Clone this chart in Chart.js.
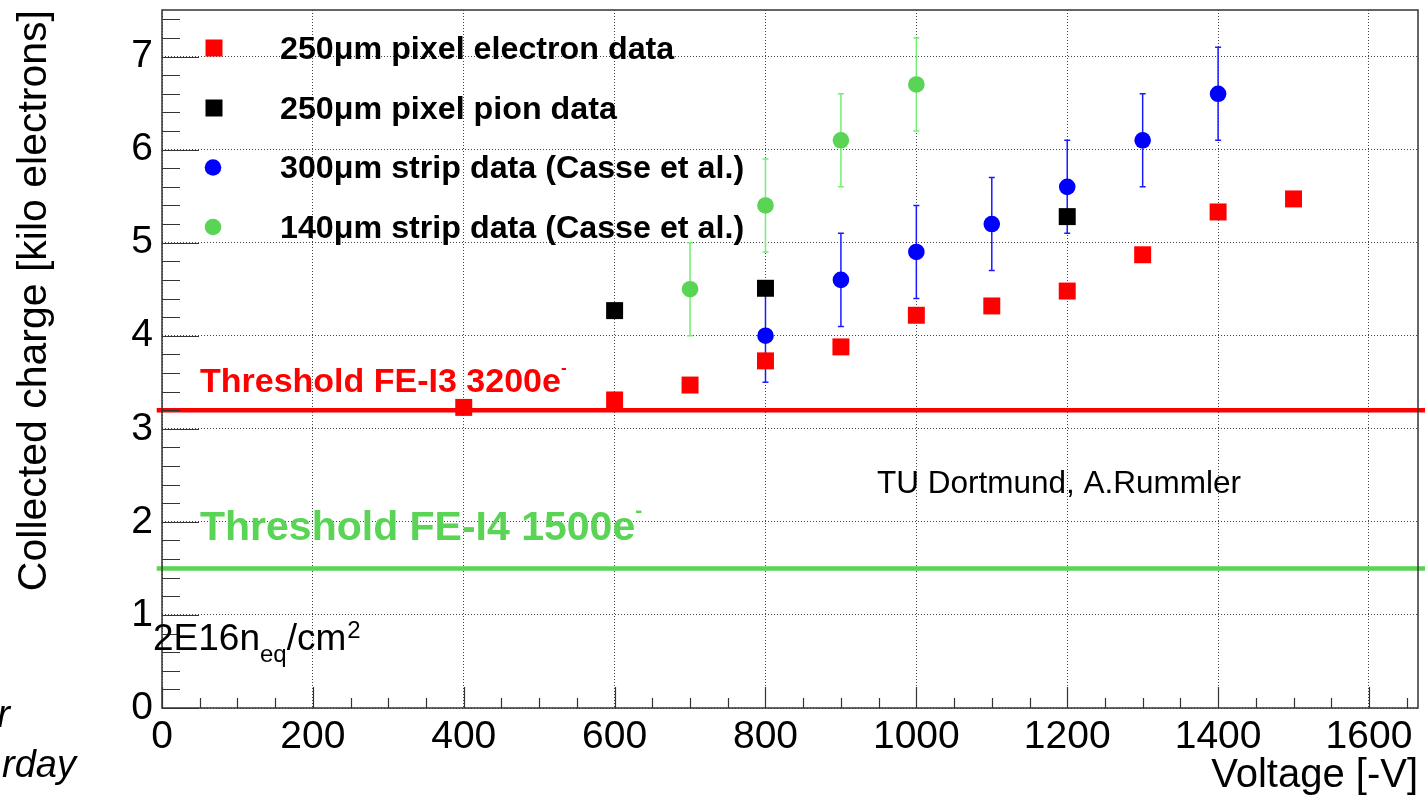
<!DOCTYPE html>
<html>
<head>
<meta charset="utf-8">
<script src="https://cdn.jsdelivr.net/npm/chart.js@4.4.1/dist/chart.umd.min.js"></script>
<style>
  html, body { margin: 0; padding: 0; background: #fff; }
  canvas { display: block; }
</style>
</head>
<body>
<canvas id="chargeChart" width="1425" height="796"></canvas>
<script>
// values (voltage in -V, charge in kilo electrons)
const electronVolts = [400, 600, 700, 800, 900, 1000, 1100, 1200, 1300, 1400, 1500];
const electronCharge = [3.23, 3.31, 3.47, 3.73, 3.88, 4.22, 4.32, 4.48, 4.87, 5.33, 5.47];

const pionVolts = [600, 800, 1200];
const pionCharge = [4.27, 4.51, 5.28];

const strip300Volts = [800, 900, 1000, 1100, 1200, 1300, 1400];
const strip300Charge = [4.0, 4.6, 4.9, 5.2, 5.6, 6.1, 6.6];
const strip300Err = [0.5, 0.5, 0.5, 0.5, 0.5, 0.5, 0.5];

const strip140Volts = [700, 800, 900, 1000];
const strip140Charge = [4.5, 5.4, 6.1, 6.7];
const strip140Err = [0.5, 0.5, 0.5, 0.5];

const thresholds = [3.2, 1.5];
const thresholdNames = ['Threshold FE-I3 3200e', 'Threshold FE-I4 1500e'];

const xTicks = [0, 200, 400, 600, 800, 1000, 1200, 1400, 1600];
const yTicks = [0, 1, 2, 3, 4, 5, 6, 7];

const FONT = '"Liberation Sans", Arial, Helvetica, sans-serif';
const RED = '#ff0000';
const GREEN = '#59d454';
const BLUE = '#0000ff';

function pts(xs, ys) {
  return xs.map((x, i) => ({ x: x, y: ys[i] }));
}

function hline(v) {
  return [{ x: -7, y: v }, { x: 1676, y: v }];
}

// error bars, drawn just before their own dataset so squares sit on top
const errorBars = {
  id: 'errorBars',
  beforeDatasetDraw(chart, args) {
    const ds = chart.data.datasets[args.index];
    if (!ds.errors) return;
    const { ctx } = chart;
    const x = chart.scales.x, y = chart.scales.y;
    ctx.save();
    ctx.strokeStyle = ds.errorColor;
    ctx.lineWidth = 1.5;
    ctx.beginPath();
    ds.data.forEach((p, i) => {
      const px = x.getPixelForValue(p.x);
      const top = y.getPixelForValue(p.y + ds.errors[i]);
      const bot = y.getPixelForValue(p.y - ds.errors[i]);
      ctx.moveTo(px, top); ctx.lineTo(px, bot);
      ctx.moveTo(px - 3, top); ctx.lineTo(px + 3, top);
      ctx.moveTo(px - 3, bot); ctx.lineTo(px + 3, bot);
    });
    ctx.stroke();
    ctx.restore();
  }
};

// ROOT style frame with ticks pointing inwards
const frame = {
  id: 'frame',
  afterDraw(chart) {
    const { ctx, chartArea: a } = chart;
    const x = chart.scales.x, y = chart.scales.y;
    ctx.save();
    ctx.strokeStyle = '#333';
    ctx.lineWidth = 1.5;
    ctx.strokeRect(a.left, a.top, a.right - a.left, a.bottom - a.top);
    ctx.lineWidth = 1.2;
    ctx.beginPath();
    for (let i = 0; i <= 37; i++) {
      const py = Math.round(y.getPixelForValue(i * 0.2)) + 0.5;
      const len = i % 5 === 0 ? 37 : 18;
      ctx.moveTo(a.left, py); ctx.lineTo(a.left + len, py);
    }
    for (let i = 0; i <= 33; i++) {
      const px = Math.round(x.getPixelForValue(i * 50)) + 0.5;
      const len = i % 4 === 0 ? 21 : 10;
      ctx.moveTo(px, a.bottom); ctx.lineTo(px, a.bottom - len);
    }
    ctx.stroke();
    ctx.restore();
  }
};

// legend, annotations and axis titles
const texts = {
  id: 'texts',
  afterDraw(chart) {
    const { ctx, chartArea: a } = chart;
    ctx.save();
    ctx.textBaseline = 'alphabetic';

    // legend
    const rows = [48, 108, 167.5, 227];
    for (let i = 0; i < 4; i++) {
      const ds = chart.data.datasets[i];
      ctx.fillStyle = ds.backgroundColor;
      ctx.beginPath();
      if (ds.pointStyle === 'rect') {
        ctx.rect(214 - 8.5, rows[i] - 8.5, 17, 17);
      } else {
        ctx.arc(213, rows[i], 8.3, 0, Math.PI * 2);
      }
      ctx.fill();
      ctx.save();
      ctx.translate(280, rows[i] + 10.5);
      ctx.scale(1.04, 1);
      ctx.fillStyle = '#000';
      ctx.font = 'bold 31px ' + FONT;
      ctx.textAlign = 'left';
      ctx.fillText(ds.label, 0, 0);
      ctx.restore();
    }

    // threshold labels
    const tCol = [RED, GREEN];
    const tSize = [34, 41];
    const tBase = [392, 540];
    for (let i = 0; i < 2; i++) {
      ctx.fillStyle = tCol[i];
      ctx.font = 'bold ' + tSize[i] + 'px ' + FONT;
      ctx.textAlign = 'left';
      ctx.fillText(thresholdNames[i], 200, tBase[i]);
      const w = ctx.measureText(thresholdNames[i]).width;
      ctx.font = 'bold ' + Math.round(tSize[i] * 0.5) + 'px ' + FONT;
      ctx.fillText('-', 200 + w, tBase[i] - tSize[i] * 0.55);
    }

    // annotations
    ctx.fillStyle = '#000';
    ctx.font = '31.5px ' + FONT;
    ctx.fillText('TU Dortmund, A.Rummler', 877, 493);

    ctx.font = '37px ' + FONT;
    ctx.fillText('2E16n', 153, 650);
    let cx = 153 + ctx.measureText('2E16n').width;
    ctx.font = '24px ' + FONT;
    ctx.fillText('eq', cx, 662);
    cx += ctx.measureText('eq').width;
    ctx.font = '37px ' + FONT;
    ctx.fillText('/cm', cx, 650);
    cx += ctx.measureText('/cm').width;
    ctx.font = '24px ' + FONT;
    ctx.fillText('2', cx + 1, 638);

    // clipped italic text at the left edge
    ctx.font = 'italic 38px ' + FONT;
    ctx.textAlign = 'right';
    ctx.fillText('r', 10, 727);
    ctx.fillText('rday', 76, 777);

    // axis titles
    ctx.font = '40px ' + FONT;
    ctx.textAlign = 'right';
    ctx.fillText('Voltage [-V]', a.right, 787);
    ctx.font = '41px ' + FONT;
    ctx.translate(35, a.top);
    ctx.rotate(-Math.PI / 2);
    ctx.textBaseline = 'middle';
    ctx.fillText('Collected charge [kilo electrons]', 0, 0);
    ctx.restore();
  }
};

new Chart(document.getElementById('chargeChart'), {
  type: 'scatter',
  data: {
    datasets: [
      {
        label: '250μm pixel electron data',
        data: pts(electronVolts, electronCharge),
        pointStyle: 'rect', pointRadius: 12, borderWidth: 0,
        backgroundColor: RED, borderColor: RED
      },
      {
        label: '250μm pixel pion data',
        data: pts(pionVolts, pionCharge),
        pointStyle: 'rect', pointRadius: 12, borderWidth: 0,
        backgroundColor: '#000', borderColor: '#000'
      },
      {
        label: '300μm strip data (Casse et al.)',
        data: pts(strip300Volts, strip300Charge),
        errors: strip300Err, errorColor: '#1a1aff',
        pointStyle: 'circle', pointRadius: 8.3, borderWidth: 0,
        backgroundColor: BLUE, borderColor: BLUE
      },
      {
        label: '140μm strip data (Casse et al.)',
        data: pts(strip140Volts, strip140Charge),
        errors: strip140Err, errorColor: '#74ee74',
        pointStyle: 'circle', pointRadius: 8.3, borderWidth: 0,
        backgroundColor: GREEN, borderColor: GREEN
      },
      {
        label: thresholdNames[0],
        data: hline(thresholds[0]),
        showLine: true, pointRadius: 0, borderWidth: 4.5,
        borderColor: RED, clip: false
      },
      {
        label: thresholdNames[1],
        data: hline(thresholds[1]),
        showLine: true, pointRadius: 0, borderWidth: 4.5,
        borderColor: GREEN, clip: false
      }
    ]
  },
  options: {
    responsive: false,
    animation: false,
    devicePixelRatio: 1,
    layout: { autoPadding: false, padding: { top: 10, right: 7, left: 0, bottom: 0 } },
    plugins: {
      legend: { display: false },
      tooltip: { enabled: false }
    },
    scales: {
      x: {
        type: 'linear',
        min: 0,
        max: 1665,
        afterBuildTicks: s => { s.ticks = xTicks.map(v => ({ value: v })); },
        afterFit: s => { s.height = 88; s.paddingLeft = 0; s.paddingRight = 0; },
        grid: { color: '#444', lineWidth: 1, drawTicks: false },
        border: { display: false, dash: [1, 2] },
        ticks: {
          color: '#000', padding: 6, maxRotation: 0, autoSkip: false,
          font: { family: FONT, size: 39 },
          callback: v => String(v)
        }
      },
      y: {
        type: 'linear',
        min: 0,
        max: 7.5,
        afterBuildTicks: s => { s.ticks = yTicks.map(v => ({ value: v })); },
        afterFit: s => { s.width = 162; s.paddingTop = 0; s.paddingBottom = 0; },
        grid: { color: '#444', lineWidth: 1, drawTicks: false },
        border: { display: false, dash: [1, 2] },
        ticks: {
          color: '#000', padding: 9, autoSkip: false,
          font: { family: FONT, size: 39 },
          callback: v => String(v)
        }
      }
    }
  },
  plugins: [errorBars, frame, texts]
});
</script>
</body>
</html>
